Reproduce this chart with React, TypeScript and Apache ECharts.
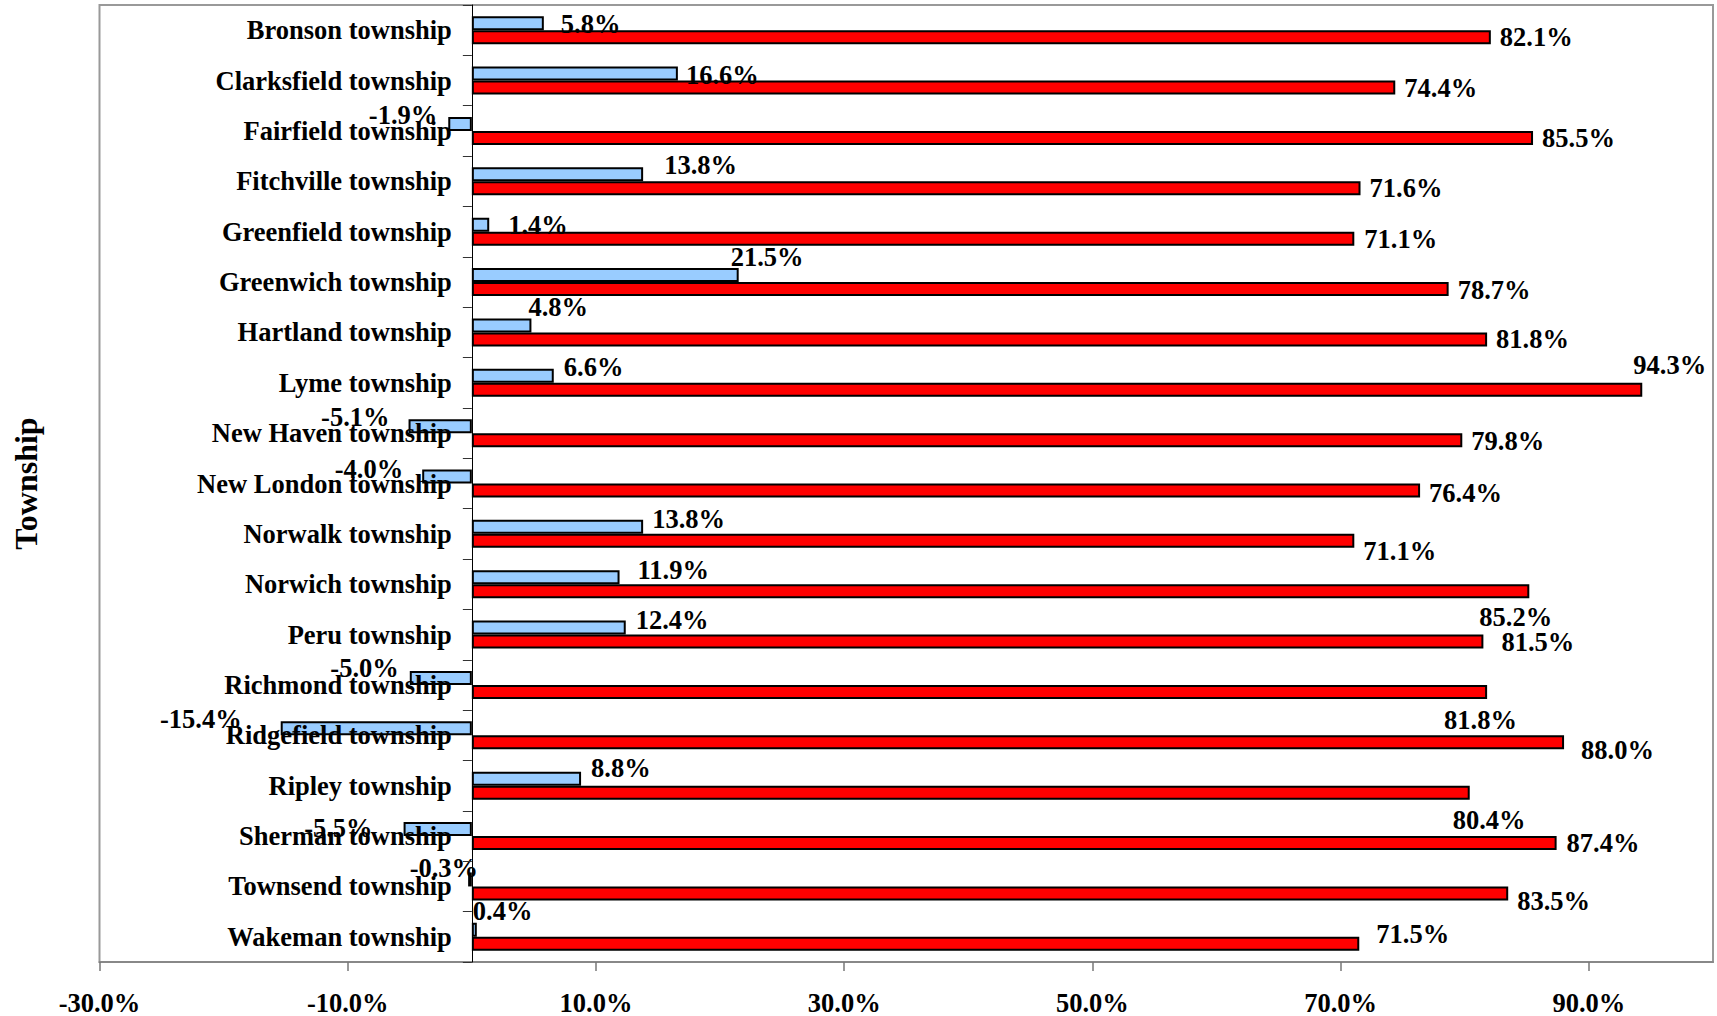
import React, { useEffect, useRef } from "react";
import * as echarts from "echarts";

const townships = [
  "Bronson township",
  "Clarksfield township",
  "Fairfield township",
  "Fitchville township",
  "Greenfield township",
  "Greenwich township",
  "Hartland township",
  "Lyme township",
  "New Haven township",
  "New London township",
  "Norwalk township",
  "Norwich township",
  "Peru township",
  "Richmond township",
  "Ridgefield township",
  "Ripley township",
  "Sherman township",
  "Townsend township",
  "Wakeman township",
];

const changeValues = [5.8, 16.6, -1.9, 13.8, 1.4, 21.5, 4.8, 6.6, -5.1, -4.0, 13.8, 11.9, 12.4, -5.0, -15.4, 8.8, -5.5, -0.3, 0.4];
const shareValues = [82.1, 74.4, 85.5, 71.6, 71.1, 78.7, 81.8, 94.3, 79.8, 76.4, 71.1, 85.2, 81.5, 81.8, 88.0, 80.4, 87.4, 83.5, 71.5];

const xTickValues = [-30, -10, 10, 30, 50, 70, 90];
const xMin = -30;
const xMax = 100;

const FONT = "'Liberation Serif', 'Times New Roman', Times, serif";

export default function App() {
  const ref = useRef<HTMLDivElement>(null);

  useEffect(() => {
    if (!ref.current) return;
    const chart = echarts.init(ref.current, undefined, { renderer: "svg" });

    const gridLeft = 99.5;
    const gridRight = 4;
    const plotWidth = 1717 - gridLeft - gridRight;
    const zeroX = gridLeft + ((0 - xMin) / (xMax - xMin)) * plotWidth;

    // label nudges (style only), as drawn in the original chart
    const blueShift = [
      [8, 1], [-1, 1], [-2, -9], [12, -9], [10, 0], [-17, -18], [-12, -18], [1, -9], [-10, -9], [-10, -8],
      [0, -8], [9, -7], [1, -8], [-2, -10], [-30, -9], [1, -11], [-22, -1], [19, -11], [-13, -19],
    ];
    const redShift = [
      [0, 0], [0, 0], [0, 0], [0, 0], [1, 0], [0, 1], [0, 0], [-18, -25], [0, 1], [0, 2],
      [0, 10], [-59, 26], [9, 0], [-52, 28], [8, 8], [-26, 27], [1, 0], [0, 8], [8, -10],
    ];

    const textStyle = {
      fontFamily: FONT,
      fontSize: 26.5,
      fontWeight: "bold" as const,
      color: "#000",
    };

    const fmt = (p: any) => Number(p.value).toFixed(1) + "%";

    const option: any = {
      animation: false,
      backgroundColor: "#ffffff",
      grid: {
        left: gridLeft,
        right: gridRight,
        top: 5,
        bottom: 54,
        show: true,
        borderColor: "#999999",
        borderWidth: 2,
        backgroundColor: "transparent",
        containLabel: false,
        outerBoundsMode: "none",
      },
      xAxis: {
        type: "value",
        min: xMin,
        max: xMax,
        splitLine: { show: false },
        axisLine: { show: true, onZero: false, lineStyle: { color: "#888888", width: 2 } },
        axisTick: {
          show: true,
          length: 9,
          customValues: xTickValues,
          lineStyle: { color: "#777777", width: 1.5 },
        },
        axisLabel: {
          customValues: xTickValues,
          formatter: (v: number) => v.toFixed(1) + "%",
          margin: 27,
          hideOverlap: false,
          ...textStyle,
        },
      },
      yAxis: [
        {
          // zero line with category ticks
          type: "category",
          data: townships,
          inverse: true,
          position: "left",
          z: 3,
          axisLine: { show: true, onZero: true, lineStyle: { color: "#000", width: 1 } },
          axisTick: { show: true, length: 9, lineStyle: { color: "#333", width: 1 } },
          axisLabel: { show: false },
          splitLine: { show: false },
        },
        {
          // township names and axis title
          type: "category",
          data: townships,
          inverse: true,
          position: "left",
          z: 4,
          axisLine: { show: false, onZero: false },
          axisTick: { show: false },
          axisLabel: {
            show: true,
            interval: 0,
            inside: true,
            align: "right",
            margin: zeroX - gridLeft - 20,
            ...textStyle,
          },
          splitLine: { show: false },
          name: "Township",
          nameLocation: "middle",
          nameRotate: 90,
          nameGap: gridLeft - 42,
          nameTextStyle: { ...textStyle, fontSize: 32 },
        },
      ],
      series: [
        {
          type: "bar",
          yAxisIndex: 0,
          barWidth: 14,
          barGap: "0%",
          itemStyle: { color: "#99CCFF", borderColor: "#000", borderWidth: 2 },
          label: { show: true, distance: 9, formatter: fmt, ...textStyle },
          data: changeValues.map((v, i) => ({
            value: v,
            label: { position: v < 0 ? "left" : "right", offset: blueShift[i] },
          })),
        },
        {
          type: "bar",
          yAxisIndex: 0,
          barWidth: 14,
          barGap: "0%",
          itemStyle: { color: "#FF0000", borderColor: "#000", borderWidth: 2 },
          label: { show: true, distance: 9, formatter: fmt, ...textStyle },
          data: shareValues.map((v, i) => ({
            value: v,
            label: { position: v < 0 ? "left" : "right", offset: redShift[i] },
          })),
        },
      ],
    };

    chart.setOption(option);
    return () => chart.dispose();
  }, []);

  return (
    <div
      ref={ref}
      style={{ position: "fixed", left: 0, top: 0, width: 1717, height: 1016, background: "#fff" }}
    />
  );
}
